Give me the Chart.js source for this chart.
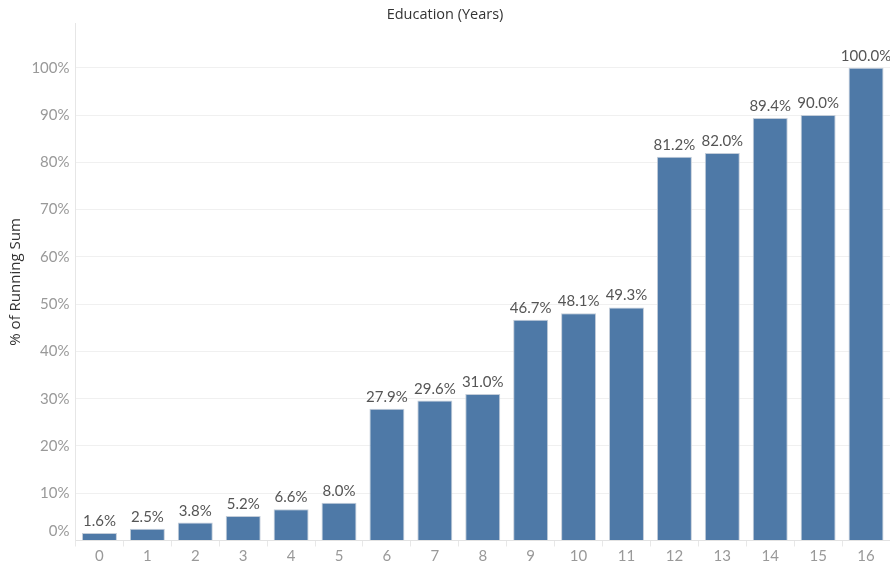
<!DOCTYPE html>
<html>
<head>
<meta charset="utf-8">
<script src="https://cdn.jsdelivr.net/npm/chart.js@4"></script>
<style>
	html, body { margin: 0; padding: 0; background: #fff; }
	#wrap { width: 890px; height: 566px; }
</style>
</head>
<body>
<div id="wrap"><canvas id="eduChart"></canvas></div>
<script>
const years = ['0', '1', '2', '3', '4', '5', '6', '7', '8', '9', '10', '11', '12', '13', '14', '15', '16'];
const runningPct = [1.6, 2.5, 3.8, 5.2, 6.6, 8.0, 27.9, 29.6, 31.0, 46.7, 48.1, 49.3, 81.2, 82.0, 89.4, 90.0, 100.0];
const yTicks = [0, 10, 20, 30, 40, 50, 60, 70, 80, 90, 100];

const FONT = 'Lato, "Open Sans", sans-serif';
const TITLE_FONT = '"Open Sans", Lato, sans-serif';

// value labels above each bar, plus the bottom "0%" tick nudged up off the axis line
const barLabels = {
	id: 'barLabels',
	afterDatasetsDraw(chart) {
		const ctx = chart.ctx;
		const meta = chart.getDatasetMeta(0);
		ctx.save();
		ctx.font = '15px ' + FONT;
		ctx.fillStyle = '#555';
		ctx.textAlign = 'center';
		ctx.textBaseline = 'alphabetic';
		meta.data.forEach((bar, i) => {
			ctx.fillText(runningPct[i].toFixed(1) + '%', bar.x, bar.y - 7);
		});
		ctx.restore();
	},
	afterDraw(chart) {
		const y = chart.scales.y;
		const ctx = chart.ctx;
		ctx.save();
		ctx.font = '15px ' + FONT;
		ctx.fillStyle = '#999';
		ctx.textAlign = 'right';
		ctx.textBaseline = 'middle';
		ctx.fillText('0%', y.right - 6, y.getPixelForValue(0) - 9);
		ctx.restore();
	}
};

const ctx = document.getElementById('eduChart').getContext('2d');
new Chart(ctx, {
	type: 'bar',
	data: {
		labels: years,
		datasets: [{
			label: '% of Running Sum',
			data: runningPct,
			backgroundColor: '#4e79a7',
			borderColor: '#c3cdd9',
			borderWidth: 1,
			categoryPercentage: 1,
			barPercentage: 0.73
		}]
	},
	options: {
		responsive: true,
		maintainAspectRatio: false,
		animation: false,
		layout: { padding: 0 },
		plugins: {
			legend: { display: false },
			tooltip: { enabled: false },
			title: {
				display: true,
				text: 'Education (Years)',
				color: '#333',
				font: { family: TITLE_FONT, size: 14.5, weight: 'normal' },
				padding: { top: 6, bottom: 0 }
			}
		},
		scales: {
			x: {
				grid: {
					offset: true,
					drawOnChartArea: false,
					tickLength: 6,
					color: '#e8e8e8'
				},
				border: { color: '#e2e2e2' },
				ticks: {
					color: '#999',
					padding: 1,
					font: { family: FONT, size: 15 }
				},
				afterFit(scale) { scale.height = 25.5; }
			},
			y: {
				min: 0,
				max: 109.4,
				ticks: {
					stepSize: 10,
					padding: 6,
					color: '#999',
					font: { family: FONT, size: 15 },
					callback: v => (v === 0 ? '' : v + '%')
				},
				afterBuildTicks(scale) {
					scale.ticks = yTicks.map(v => ({ value: v }));
				},
				grid: { color: '#f0f0f0', drawTicks: false },
				border: { color: '#e6e6e6' },
				title: {
					display: true,
					text: '% of Running Sum',
					color: '#333',
					font: { family: TITLE_FONT, size: 15 },
					padding: { top: 7, bottom: 0 }
				},
				afterFit(scale) { scale.width = 75.5; }
			}
		}
	},
	plugins: [barLabels]
});
</script>
</body>
</html>
